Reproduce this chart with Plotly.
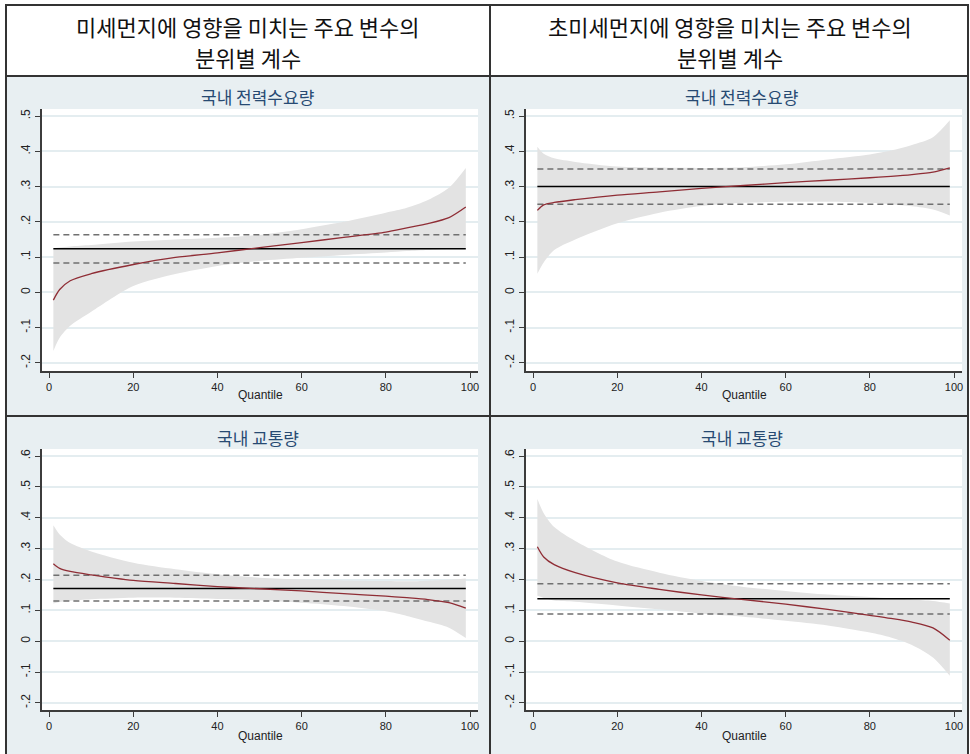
import plotly.graph_objects as go

W, H = 970, 754

# ---- data ----
quantiles = [1, 2.5, 5, 10, 20, 30, 40, 50, 60, 70, 80, 85, 90, 95, 99]

header_line1 = ["미세먼지에 영향을 미치는 주요 변수의", "초미세먼지에 영향을 미치는 주요 변수의"]
header_line2 = ["분위별 계수", "분위별 계수"]
panel_titles = ["국내 전력수요량", "국내 전력수요량", "국내 교통량", "국내 교통량"]
x_title = "Quantile"

# panel 1: PM10 - electricity demand
p1_coef = [-0.022, 0.008, 0.033, 0.053, 0.079, 0.099, 0.112, 0.127, 0.141, 0.156, 0.171, 0.183, 0.195, 0.212, 0.242]
p1_upper = [0.125, 0.127, 0.130, 0.134, 0.144, 0.150, 0.155, 0.163, 0.179, 0.200, 0.226, 0.240, 0.262, 0.297, 0.353]
p1_lower = [-0.166, -0.129, -0.095, -0.055, 0.018, 0.052, 0.075, 0.089, 0.098, 0.106, 0.113, 0.117, 0.120, 0.123, 0.125]
p1_ols = [0.124, 0.083, 0.1635]

# panel 2: PM2.5 - electricity demand
p2_coef = [0.2325, 0.248, 0.255, 0.263, 0.276, 0.285, 0.295, 0.303, 0.311, 0.318, 0.325, 0.329, 0.334, 0.341, 0.353]
p2_upper = [0.413, 0.393, 0.380, 0.370, 0.357, 0.354, 0.353, 0.355, 0.363, 0.377, 0.391, 0.402, 0.418, 0.440, 0.488]
p2_lower = [0.053, 0.085, 0.120, 0.150, 0.196, 0.226, 0.245, 0.254, 0.257, 0.257, 0.254, 0.250, 0.244, 0.235, 0.218]
p2_ols = [0.300, 0.250, 0.350]

# panel 3: PM10 - traffic
p3_coef = [0.251, 0.236, 0.226, 0.215, 0.197, 0.187, 0.177, 0.170, 0.163, 0.154, 0.146, 0.141, 0.135, 0.125, 0.107]
p3_upper = [0.376, 0.346, 0.318, 0.291, 0.254, 0.233, 0.217, 0.206, 0.2005, 0.197, 0.195, 0.194, 0.196, 0.199, 0.203]
p3_lower = [0.122, 0.127, 0.131, 0.136, 0.141, 0.141, 0.137, 0.133, 0.125, 0.114, 0.097, 0.082, 0.064, 0.044, 0.010]
p3_ols = [0.171, 0.130, 0.2135]

# panel 4: PM2.5 - traffic
p4_coef = [0.306, 0.273, 0.248, 0.222, 0.189, 0.168, 0.150, 0.135, 0.120, 0.103, 0.084, 0.074, 0.062, 0.043, 0.003]
p4_upper = [0.461, 0.415, 0.370, 0.325, 0.258, 0.222, 0.195, 0.176, 0.163, 0.151, 0.143, 0.139, 0.135, 0.130, 0.122]
p4_lower = [0.147, 0.140, 0.132, 0.128, 0.116, 0.1035, 0.0895, 0.079, 0.066, 0.051, 0.028, 0.012, -0.012, -0.053, -0.112]
p4_ols = [0.138, 0.088, 0.1865]

x_ticks = [0, 20, 40, 60, 80, 100]
y_ticks_top = [-0.2, -0.1, 0, 0.1, 0.2, 0.3, 0.4, 0.5]
y_text_top = ["-.2", "-.1", "0", ".1", ".2", ".3", ".4", ".5"]
y_ticks_bot = [-0.2, -0.1, 0, 0.1, 0.2, 0.3, 0.4, 0.5, 0.6]
y_text_bot = ["-.2", "-.1", "0", ".1", ".2", ".3", ".4", ".5", ".6"]

panels = [
    (p1_coef, p1_upper, p1_lower, p1_ols),
    (p2_coef, p2_upper, p2_lower, p2_ols),
    (p3_coef, p3_upper, p3_lower, p3_ols),
    (p4_coef, p4_upper, p4_lower, p4_ols),
]

# ---- layout geometry (pixels) ----
def px(x):
    return x / W

def py(y):
    return 1 - y / H

plot_boxes = [  # x0, x1, ytop, ybottom
    (42, 478, 109, 371),
    (526, 962, 109, 371),
    (42, 478, 449, 710),
    (526, 962, 449, 710),
]

BG = "#e8eff2"
GRID = "#e4edf0"
AXIS = "#3c3c3c"
RED = "#8f2d35"
BAND = "#e3e3e3"
DASH = "#707070"
TITLE_C = "#274a72"

fig = go.Figure()

for i, (coef, up, lo, ols) in enumerate(panels):
    n = i + 1
    xa = "x" if n == 1 else f"x{n}"
    ya = "y" if n == 1 else f"y{n}"
    fig.add_trace(go.Scatter(
        x=quantiles, y=lo, mode="lines",
        line=dict(width=0, color=BAND, shape="spline", smoothing=0.8),
        hoverinfo="skip", showlegend=False, xaxis=xa, yaxis=ya))
    fig.add_trace(go.Scatter(
        x=quantiles, y=up, mode="lines", fill="tonexty", fillcolor=BAND,
        line=dict(width=0, color=BAND, shape="spline", smoothing=0.8),
        hoverinfo="skip", showlegend=False, xaxis=xa, yaxis=ya))
    qx = [quantiles[0], quantiles[-1]]
    fig.add_trace(go.Scatter(x=qx, y=[ols[1]] * 2, mode="lines",
                             line=dict(color=DASH, width=1.5, dash="6px,4px"),
                             showlegend=False, xaxis=xa, yaxis=ya))
    fig.add_trace(go.Scatter(x=qx, y=[ols[2]] * 2, mode="lines",
                             line=dict(color=DASH, width=1.5, dash="6px,4px"),
                             showlegend=False, xaxis=xa, yaxis=ya))
    fig.add_trace(go.Scatter(x=qx, y=[ols[0]] * 2, mode="lines",
                             line=dict(color="black", width=1.5),
                             showlegend=False, xaxis=xa, yaxis=ya))
    fig.add_trace(go.Scatter(x=quantiles, y=coef, mode="lines",
                             line=dict(color=RED, width=1.3, shape="spline", smoothing=0.8),
                             showlegend=False, xaxis=xa, yaxis=ya))

    x0, x1, yt, yb = plot_boxes[i]
    top = i < 2
    yrange = [-0.223, 0.52] if top else [-0.223, 0.623]
    xkey = "xaxis" if n == 1 else f"xaxis{n}"
    ykey = "yaxis" if n == 1 else f"yaxis{n}"
    fig.layout[xkey] = dict(
        domain=[px(x0), px(x1)], anchor=ya, range=[-1.7, 101.9],
        tickvals=x_ticks, ticks="outside", ticklen=5, tickwidth=1.2, tickcolor=AXIS,
        showline=True, linecolor=AXIS, linewidth=1.5, showgrid=False, zeroline=False,
        tickfont=dict(family="Liberation Sans, Arial", size=11, color="#222"))
    fig.layout[ykey] = dict(
        domain=[py(yb), py(yt)], anchor=xa, range=yrange,
        tickvals=y_ticks_top if top else y_ticks_bot,
        ticktext=y_text_top if top else y_text_bot,
        tickangle=-90, ticks="outside", ticklen=5, tickwidth=1.2, tickcolor=AXIS,
        showline=True, linecolor=AXIS, linewidth=1.5, showgrid=True, gridcolor=GRID,
        gridwidth=1.5, zeroline=False,
        tickfont=dict(family="Liberation Sans, Arial", size=12, color="#222"))

shapes = []
# white header and outer margins (panel bg is the paper colour)
shapes.append(dict(type="rect", xref="paper", yref="paper", x0=0, x1=1, y0=py(76), y1=1,
                   fillcolor="white", line=dict(width=0), layer="below"))
shapes.append(dict(type="rect", xref="paper", yref="paper", x0=0, x1=px(6), y0=0, y1=1,
                   fillcolor="white", line=dict(width=0), layer="below"))
shapes.append(dict(type="rect", xref="paper", yref="paper", x0=px(968), x1=1, y0=0, y1=1,
                   fillcolor="white", line=dict(width=0), layer="below"))
# frame lines
LINE = dict(color="#333333", width=2)
shapes.append(dict(type="rect", xref="paper", yref="paper", x0=px(6), x1=px(968), y0=py(760), y1=py(5),
                   line=LINE, layer="above"))
shapes.append(dict(type="line", xref="paper", yref="paper", x0=px(6), x1=px(968), y0=py(76), y1=py(76),
                   line=LINE, layer="above"))
shapes.append(dict(type="line", xref="paper", yref="paper", x0=px(6), x1=px(968), y0=py(416), y1=py(416),
                   line=LINE, layer="above"))
shapes.append(dict(type="line", xref="paper", yref="paper", x0=px(490), x1=px(490), y0=py(760), y1=py(5),
                   line=LINE, layer="above"))

annotations = []
for cx, t1, t2 in zip([248, 730], header_line1, header_line2):
    annotations.append(dict(x=px(cx), y=py(26), xref="paper", yref="paper", text=t1,
                            showarrow=False, xanchor="center", yanchor="middle",
                            font=dict(family="Noto Sans CJK KR", size=22, color="#111")))
    annotations.append(dict(x=px(cx), y=py(57), xref="paper", yref="paper", text=t2,
                            showarrow=False, xanchor="center", yanchor="middle",
                            font=dict(family="Noto Sans CJK KR", size=22, color="#111")))
title_pos = [(258, 97), (742, 97), (258, 437), (742, 437)]
for (cx, cy), t in zip(title_pos, panel_titles):
    annotations.append(dict(x=px(cx), y=py(cy), xref="paper", yref="paper", text=t,
                            showarrow=False, xanchor="center", yanchor="middle",
                            font=dict(family="Noto Sans CJK KR", size=17, color=TITLE_C)))
q_pos = [(260, 395), (744, 395), (260, 736), (744, 736)]
for cx, cy in q_pos:
    annotations.append(dict(x=px(cx), y=py(cy), xref="paper", yref="paper", text=x_title,
                            showarrow=False, xanchor="center", yanchor="middle",
                            font=dict(family="Liberation Sans, Arial", size=12, color="#222")))

fig.update_layout(
    width=W, height=H, margin=dict(l=0, r=0, t=0, b=0),
    paper_bgcolor=BG, plot_bgcolor="white",
    shapes=shapes, annotations=annotations, showlegend=False)

fig.write_html("out.html", config={"displayModeBar": False},
               post_script="document.body.style.margin='0px';")
